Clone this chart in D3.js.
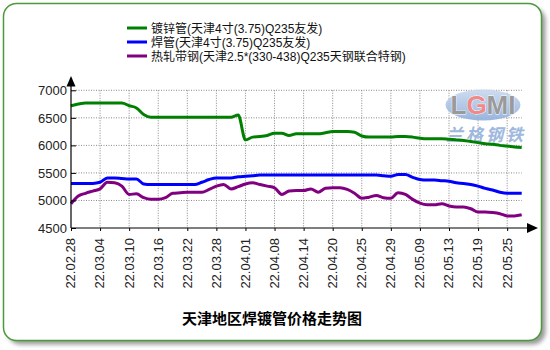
<!DOCTYPE html>
<html><head><meta charset="utf-8">
<script src="https://cdn.jsdelivr.net/npm/d3@7"></script>
<style>
html,body{margin:0;padding:0;background:#fff;}
svg{display:block;}
text{font-family:"Liberation Sans","Noto Sans CJK SC",sans-serif;}
</style></head>
<body>
<svg id="c" width="550" height="350"></svg>
<script>
const dates = ["22.02.28","22.03.01","22.03.02","22.03.03","22.03.04","22.03.07","22.03.08","22.03.09","22.03.10","22.03.11",
"22.03.14","22.03.15","22.03.16","22.03.17","22.03.18","22.03.21","22.03.22","22.03.23","22.03.24","22.03.25",
"22.03.28","22.03.29","22.03.30","22.03.31","22.04.01","22.04.02","22.04.06","22.04.07","22.04.08","22.04.11",
"22.04.12","22.04.13","22.04.14","22.04.15","22.04.18","22.04.19","22.04.20","22.04.21","22.04.22","22.04.24",
"22.04.25","22.04.26","22.04.27","22.04.28","22.04.29","22.05.05","22.05.06","22.05.07","22.05.09","22.05.10",
"22.05.11","22.05.12","22.05.13","22.05.16","22.05.17","22.05.18","22.05.19","22.05.20","22.05.23","22.05.24",
"22.05.25","22.05.26","22.05.27"];
const galvanized = [6720,6750,6770,6770,6770,6770,6770,6770,6720,6680,
6560,6510,6510,6510,6510,6510,6510,6510,6510,6510,
6510,6510,6510,6550,6100,6150,6160,6180,6220,6220,
6180,6210,6210,6210,6210,6230,6250,6250,6250,6240,
6170,6150,6150,6150,6150,6160,6160,6150,6130,6120,
6120,6120,6110,6100,6090,6070,6050,6030,6020,6000,
5990,5970,5960];
const welded = [5310,5310,5310,5310,5330,5410,5410,5400,5390,5390,
5300,5290,5290,5290,5290,5290,5290,5290,5330,5380,
5410,5410,5410,5430,5440,5450,5460,5460,5460,5460,
5460,5460,5460,5460,5460,5460,5460,5460,5460,5460,
5460,5460,5460,5450,5440,5470,5470,5420,5380,5370,
5370,5360,5350,5320,5310,5290,5260,5220,5190,5150,
5130,5130,5130];
const strip = [4940,5080,5130,5170,5210,5330,5320,5260,5110,5120,
5050,5020,5020,5050,5130,5140,5150,5150,5150,5200,
5260,5290,5210,5250,5300,5320,5290,5260,5230,5110,
5170,5180,5180,5210,5150,5220,5230,5230,5200,5130,
5040,5060,5090,5050,5040,5140,5110,5020,4950,4920,
4920,4940,4900,4880,4880,4850,4790,4790,4780,4760,
4720,4720,4740];
const seriesNames = ["镀锌管(天津4寸(3.75)Q235友发)","焊管(天津4寸(3.75)Q235友发)","热轧带钢(天津2.5*(330-438)Q235天钢联合特钢)"];
const seriesColors = ["#008000","#0000ff","#800080"];
const yTicks = [4500,5000,5500,6000,6500,7000];
const title = "天津地区焊镀管价格走势图";

const series = [galvanized, welded, strip];
const svg = d3.select("#c");
const defs = svg.append("defs");
const f = defs.append("filter").attr("id","sh").attr("x","-10%").attr("y","-10%").attr("width","120%").attr("height","120%");
f.append("feGaussianBlur").attr("stdDeviation",2);

// frame with shadow
svg.append("rect").attr("x",7.5).attr("y",7.5).attr("width",538).attr("height",337).attr("rx",13)
  .attr("fill","#9a9a9a").attr("filter","url(#sh)");
svg.append("rect").attr("x",3.5).attr("y",3.5).attr("width",538).attr("height",337).attr("rx",13)
  .attr("fill","#fff").attr("stroke","#4a9a3a").attr("stroke-width",1.5);

const x = d3.scalePoint().domain(dates).range([71,521.7]);
const y = d3.scaleLinear().domain([4500,7000]).range([228,90.3]);
const xTickVals = dates.filter((d,i)=>i%4===0);

// grid
const g = svg.append("g");
g.selectAll(".hg").data(yTicks.slice(1)).join("line")
  .attr("x1",71).attr("x2",521.7).attr("y1",d=>y(d)).attr("y2",d=>y(d))
  .attr("stroke","#888").attr("stroke-dasharray","1,1.5");
g.selectAll(".vg").data(xTickVals.slice(1)).join("line")
  .attr("x1",d=>x(d)).attr("x2",d=>x(d)).attr("y1",y(7000)).attr("y2",228)
  .attr("stroke","#888").attr("stroke-dasharray","1,1.5");

// watermark
const wm = svg.append("g");
const lg = defs.append("linearGradient").attr("id","wmg").attr("x1",0).attr("y1",0).attr("x2",0).attr("y2",1);
lg.append("stop").attr("offset","0").attr("stop-color","#c9d8ee");
lg.append("stop").attr("offset","1").attr("stop-color","#8eaedb");
wm.append("ellipse").attr("cx",483).attr("cy",105).attr("rx",37.5).attr("ry",15.5).attr("fill","url(#wmg)").attr("opacity",0.9);
const lt = wm.append("text").attr("x",483).attr("y",114).attr("text-anchor","middle")
  .attr("font-size",26).attr("font-weight","bold").attr("stroke","#fff").attr("stroke-width",0.8)
  .attr("paint-order","stroke");
lt.append("tspan").attr("fill","#9a9a9a").text("L");
lt.append("tspan").attr("fill","#f08a8a").text("G");
lt.append("tspan").attr("fill","#9a9a9a").text("MI");
wm.append("text").attr("x",486).attr("y",141).attr("text-anchor","middle").attr("font-size",17)
  .attr("letter-spacing",3).attr("fill","#9fb8de").attr("font-style","italic").attr("font-weight","bold").text("兰格钢铁");

// lines
const line = d3.line().x((d,i)=>x(dates[i])).y(d=>y(d)).curve(d3.curveMonotoneX);
series.forEach((s,k)=>{
  svg.append("path").datum(s).attr("d",line).attr("fill","none")
    .attr("stroke",seriesColors[k]).attr("stroke-width",3).attr("stroke-linejoin","round");
});

// axes
const ya = svg.append("g").attr("transform","translate(71,0)")
  .call(d3.axisLeft(y).tickValues(yTicks).tickSize(-5).tickPadding(4).tickFormat(d3.format("d")));
ya.select(".domain").remove();
ya.selectAll("text").attr("font-size",13).attr("fill","#222").attr("font-family",null);
ya.selectAll("line").attr("stroke","#000");
svg.append("line").attr("x1",71).attr("x2",71).attr("y1",84).attr("y2",228).attr("stroke","#000").attr("stroke-width",1.2);
svg.append("path").attr("d",`M71,76 L66.5,86.5 L75.5,86.5 Z`).attr("fill","#000");

const xa = svg.append("g").attr("transform","translate(0,228)")
  .call(d3.axisBottom(x).tickValues(xTickVals).tickSize(3).tickPadding(0));
xa.select(".domain").remove();
xa.selectAll("line").attr("stroke","#000");
xa.selectAll("text").attr("font-size",13).attr("fill","#222").attr("font-family",null)
  .attr("text-anchor","end").attr("transform","rotate(-90)").attr("x",-10).attr("y",0).attr("dy","0.3em");
svg.append("line").attr("x1",71).attr("x2",528).attr("y1",228).attr("y2",228).attr("stroke","#000").attr("stroke-width",1.2);
svg.append("path").attr("d",`M538,228 L527,223 L527,233 Z`).attr("fill","#000");

// legend
const leg = svg.append("g");
seriesNames.forEach((n,k)=>{
  const yy = 28 + k*14;
  leg.append("line").attr("x1",127).attr("x2",147).attr("y1",yy).attr("y2",yy)
    .attr("stroke",seriesColors[k]).attr("stroke-width",3);
  leg.append("text").attr("x",151).attr("y",yy+4.5).attr("font-size",12).attr("fill","#111").text(n);
});

// title
svg.append("text").attr("x",272).attr("y",324).attr("text-anchor","middle")
  .attr("font-size",15).attr("font-weight","bold").attr("fill","#000").text(title);
</script>
</body></html>
